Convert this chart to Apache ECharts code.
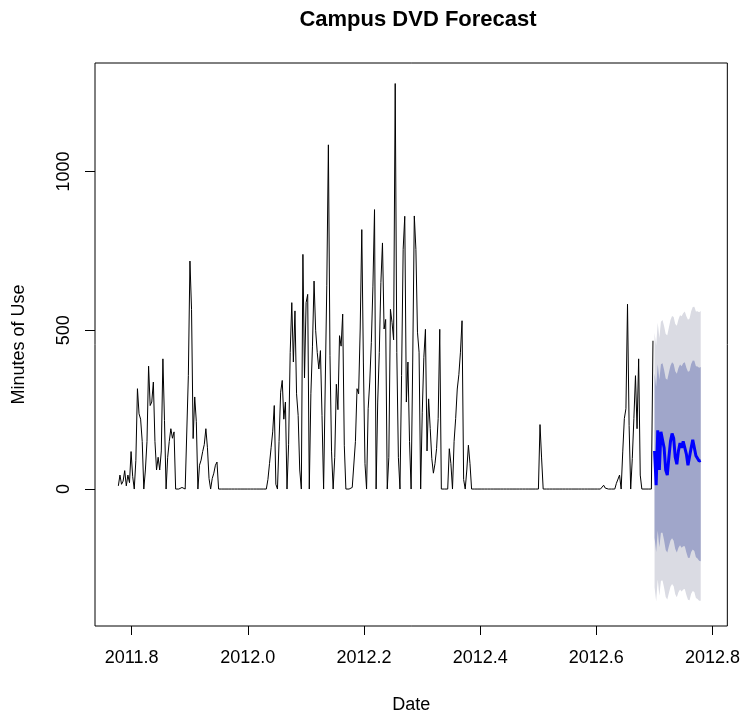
<!DOCTYPE html>
<html>
<head>
<meta charset="utf-8">
<title>Campus DVD Forecast</title>
<script src="https://cdn.jsdelivr.net/npm/echarts@6/dist/echarts.min.js"></script>
<style>
  html, body { margin: 0; padding: 0; background: #ffffff; }
  #chart { width: 743px; height: 719px; }
</style>
</head>
<body>
<div id="chart"></div>
<script>
// Daily series: start (decimal year) and frequency, as in an R ts object
const tsStart = 2011.777;
const tsFreq = 365;

// Observed minutes of use per day
const usage = [
  10, 44, 15, 25, 58, 10, 44, 20, 118, 40,
  0, 90, 316, 237, 220, 150, 0, 60, 150, 387,
  263, 274, 337, 150, 60, 100, 60, 120, 410, 216,
  0, 100, 150, 190, 160, 180, 0, 0, 0, 0,
  5, 0, 0, 0, 357, 718, 566, 159, 290, 212,
  0, 75, 91, 118, 140, 190, 130, 33, 0, 33,
  50, 75, 85, 0, 0, 0, 0, 0, 0, 0,
  0, 0, 0, 0, 0, 0, 0, 0, 0, 0,
  0, 0, 0, 0, 0, 0, 0, 0, 0, 0,
  5, 0, 0, 0, 30, 80, 130, 180, 263, 15,
  0, 150, 305, 342, 220, 274, 0, 141, 430, 587,
  400, 561, 300, 232, 60, 0, 739, 350, 587, 613,
  0, 300, 450, 655, 500, 430, 378, 436, 232, 0,
  0, 640, 1084, 420, 117, 0, 100, 330, 250, 483,
  450, 551, 138, 0, 0, 0, 0, 5, 0, 150,
  316, 300, 504, 817, 400, 80, 0, 253, 337, 462,
  639, 880, 0, 274, 430, 650, 775, 504, 534, 0,
  100, 566, 525, 470, 1277, 430, 100, 0, 357, 755,
  859, 274, 400, 150, 0, 400, 860, 755, 494, 431,
  0, 242, 415, 503, 120, 284, 191, 96, 50, 80,
  127, 222, 503, 0, 0, 0, 0, 0, 127, 80,
  0, 150, 222, 315, 360, 431, 530, 30, 0, 60,
  138, 80, 0, 0, 0, 0, 0, 0, 0, 0,
  0, 0, 0, 0, 0, 0, 0, 0, 0, 0,
  0, 0, 0, 0, 0, 0, 0, 0, 0, 0,
  0, 0, 0, 0, 0, 0, 0, 0, 0, 0,
  0, 0, 0, 0, 0, 203, 98, 0, 0, 0,
  0, 0, 0, 0, 0, 0, 0, 0, 0, 0,
  0, 0, 0, 0, 0, 0, 0, 0, 0, 0,
  0, 0, 0, 0, 0, 0, 0, 0, 0, 0,
  0, 0, 0, 0, 5, 12, 3, 0, 0, 0,
  0, 0, 0, 18, 20, 44, 0, 117, 222, 253,
  582, 200, 0, 96, 222, 357, 190, 410, 44, 0,
  0, 0, 0, 0, 0, 0, 467
];

// 30-day forecast: point forecast and prediction intervals
const fcMean = [120, 12, 185, 60, 180, 185, 130, 60, 44, 100, 150, 175, 160, 100, 78,
                120, 145, 130, 150, 155, 110, 75, 78, 130, 155, 150, 105, 100, 88, 90];
const fcHi95 = [492, 452, 524, 476, 527, 532, 513, 488, 484, 509, 532, 545, 542, 520, 514,
                534, 547, 544, 554, 559, 544, 533, 537, 560, 573, 574, 559, 560, 557, 561];
const fcLo95 = [-309, -353, -285, -336, -289, -288, -311, -340, -348, -327, -308, -299, -306, -331, -341,
                -325, -316, -323, -316, -315, -334, -349, -350, -330, -321, -324, -343, -346, -352, -352];
const fcHi80 = [365, 323, 393, 344, 393, 396, 375, 348, 344, 367, 388, 399, 394, 371, 363,
                381, 392, 387, 396, 399, 382, 369, 372, 394, 405, 404, 387, 386, 382, 384];
const fcLo80 = [-153, -198, -131, -183, -138, -138, -162, -192, -200, -180, -162, -155, -163, -189, -200,
                -185, -177, -185, -180, -180, -200, -216, -217, -198, -190, -195, -215, -219, -226, -227];

// Axis ticks and plot limits
const xTicks = [2011.8, 2012.0, 2012.2, 2012.4, 2012.6, 2012.8];
const yTicks = [0, 500, 1000];
const xLim = [2011.7368, 2012.8256];
const yLim = [-431.3, 1341.7];

const timeAt = i => tsStart + i / tsFreq;
const fcOffset = usage.length;
const obsData = usage.map((v, i) => [timeAt(i), v]);
const meanData = fcMean.map((v, j) => [timeAt(fcOffset + j), v]);

// Shaded prediction band drawn as one polygon through the axis scales
function bandSeries(name, lo, hi, color, z) {
  return {
    name: name,
    type: 'custom',
    coordinateSystem: 'cartesian2d',
    silent: true,
    z: z,
    data: lo.map((v, j) => [timeAt(fcOffset + j), v, hi[j]]),
    encode: { x: 0, y: [1, 2] },
    renderItem: function (params, api) {
      if (params.dataIndex !== 0) return null;
      const pts = [];
      for (let j = 0; j < hi.length; j++) pts.push(api.coord([timeAt(fcOffset + j), hi[j]]));
      for (let j = lo.length - 1; j >= 0; j--) pts.push(api.coord([timeAt(fcOffset + j), lo[j]]));
      return { type: 'polygon', shape: { points: pts }, style: { fill: color } };
    }
  };
}

const font = '"Liberation Sans", Arial, sans-serif';
const chart = echarts.init(document.getElementById('chart'), null, { renderer: 'canvas' });

chart.setOption({
  animation: false,
  backgroundColor: '#ffffff',
  title: {
    text: 'Campus DVD Forecast',
    left: 413,
    top: 4,
    textAlign: 'center',
    textStyle: { fontFamily: font, fontSize: 22, fontWeight: 'bold', color: '#000000' }
  },
  grid: {
    left: 95, right: 11, top: 63, bottom: 91,
    show: true, borderColor: '#000000', borderWidth: 1, backgroundColor: 'transparent'
  },
  xAxis: {
    type: 'value',
    min: xLim[0],
    max: xLim[1],
    name: 'Date',
    nameLocation: 'middle',
    nameGap: 70,
    nameTextStyle: { fontFamily: font, fontSize: 18, color: '#000000' },
    axisLine: { show: false, onZero: false },
    splitLine: { show: false },
    axisTick: { show: true, length: 9, customValues: xTicks, lineStyle: { color: '#000000', width: 1 } },
    axisLabel: {
      customValues: xTicks, margin: 23,
      fontFamily: font, fontSize: 18, color: '#000000',
      formatter: v => v.toFixed(1)
    }
  },
  yAxis: {
    type: 'value',
    min: yLim[0],
    max: yLim[1],
    name: 'Minutes of Use',
    nameLocation: 'middle',
    nameRotate: 90,
    nameGap: 67,
    nameTextStyle: { fontFamily: font, fontSize: 18, color: '#000000' },
    axisLine: { show: false, onZero: false },
    splitLine: { show: false },
    axisTick: { show: true, length: 10, customValues: yTicks, lineStyle: { color: '#000000', width: 1 } },
    axisLabel: {
      customValues: yTicks, rotate: 90, margin: 22,
      fontFamily: font, fontSize: 18, color: '#000000',
      formatter: v => String(v)
    }
  },
  series: [
    bandSeries('95%', fcLo95, fcHi95, '#DADBE3', 1),
    bandSeries('80%', fcLo80, fcHi80, '#A0A6CA', 2),
    {
      name: 'Minutes of Use',
      type: 'line',
      data: obsData,
      showSymbol: false,
      symbol: 'none',
      z: 3,
      lineStyle: { color: '#000000', width: 1 }
    },
    {
      name: 'Forecast',
      type: 'line',
      data: meanData,
      showSymbol: false,
      symbol: 'none',
      z: 4,
      lineStyle: { color: '#0000FF', width: 3 }
    }
  ]
});
</script>
</body>
</html>
